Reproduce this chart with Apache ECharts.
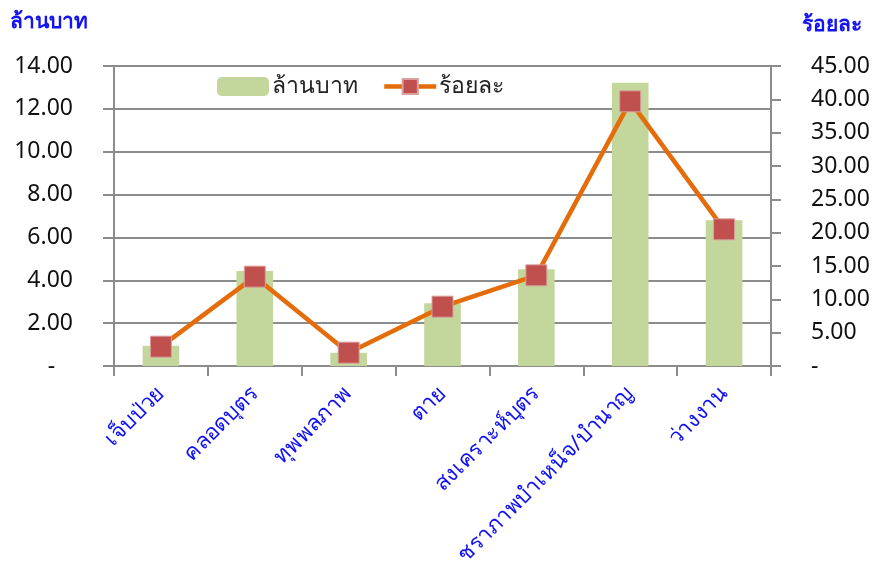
<!DOCTYPE html>
<html><head><meta charset="utf-8">
<script src="https://cdn.jsdelivr.net/npm/echarts@6/dist/echarts.min.js"></script>
<style>html,body{margin:0;padding:0;background:#fff}#c{width:874px;height:575px}</style>
</head><body><div id="c"></div>
<script>
const categories = ['เจ็บป่วย','คลอดบุตร','ทุพพลภาพ','ตาย','สงเคราะห์บุตร','ชราภาพบำเหน็จ/บำนาญ','ว่างงาน'];
const millionBaht = [0.95, 4.43, 0.62, 2.93, 4.52, 13.22, 6.80];
const percent = [2.9, 13.4, 2.0, 8.9, 13.6, 39.7, 20.5];
const leftTicks = {min: 0, max: 14, interval: 2};
const rightTicks = {min: 0, max: 45, interval: 5};
const seriesNames = ['ล้านบาท', 'ร้อยละ'];

const FONT = '"Noto Sans", "DejaVu Sans", sans-serif';
const grey = '#8C8C8C';
const chart = echarts.init(document.getElementById('c'));
chart.setOption({
  animation: false,
  textStyle: {fontFamily: FONT},
  title: [
    {text: 'ล้านบาท', left: 5, top: 7, textStyle: {color: '#1414F0', fontSize: 21, fontWeight: 'bold', fontFamily: FONT}},
    {text: 'ร้อยละ', left: 797, top: 10, textStyle: {color: '#1414F0', fontSize: 21, fontWeight: 'bold', fontFamily: FONT}}
  ],
  legend: {
    left: 212, top: 70, itemWidth: 52, itemHeight: 19, itemGap: 24,
    textStyle: {fontSize: 23, color: '#222', fontFamily: FONT, padding: [0, 0, 0, -2]},
    data: [
      {name: seriesNames[0]},
      {name: seriesNames[1], lineStyle: {width: 4.5, color: '#E46C0A'}}
    ]
  },
  grid: {left: 114, right: 103, top: 66, bottom: 209, containLabel: false},
  xAxis: {
    type: 'category', data: categories,
    axisLine: {lineStyle: {color: grey, width: 2}},
    axisTick: {show: true, length: 10, alignWithLabel: false, lineStyle: {color: grey, width: 2}},
    axisLabel: {rotate: 45, color: '#1010F5', fontSize: 22, margin: 24, interval: 0, fontFamily: FONT}
  },
  yAxis: [
    {type: 'value', min: leftTicks.min, max: leftTicks.max, interval: leftTicks.interval,
     axisLine: {show: true, lineStyle: {color: grey, width: 2}},
     axisTick: {show: true, length: 11, lineStyle: {color: grey, width: 2}},
     splitLine: {lineStyle: {color: grey, width: 2}},
     axisLabel: {color: '#111', fontSize: 23, margin: 41, fontFamily: FONT,
       formatter: v => v === 0 ? '-   ' : v.toFixed(2)}},
    {type: 'value', min: rightTicks.min, max: rightTicks.max, interval: rightTicks.interval,
     position: 'right',
     axisLine: {show: true, lineStyle: {color: grey, width: 2}},
     axisTick: {show: true, length: 10, lineStyle: {color: grey, width: 2}},
     splitLine: {show: false},
     axisLabel: {color: '#111', fontSize: 23, margin: 40, fontFamily: FONT,
       formatter: v => v === 0 ? '-' : v.toFixed(2)}}
  ],
  series: [
    {name: seriesNames[0], type: 'bar', data: millionBaht, yAxisIndex: 0, barWidth: '39%',
     itemStyle: {color: '#C3D69B'}},
    {name: seriesNames[1], type: 'line', data: percent, yAxisIndex: 1,
     symbol: 'rect', symbolSize: 21, z: 5,
     lineStyle: {color: '#E46C0A', width: 4.5},
     itemStyle: {color: '#C0504D', borderColor: '#D9A09E', borderWidth: 1}}
  ]
});
</script></body></html>
